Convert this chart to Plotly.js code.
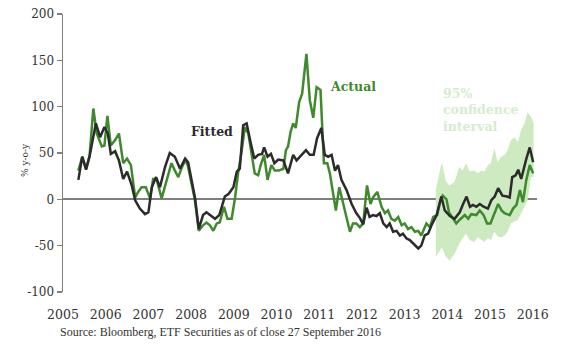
<!DOCTYPE html>
<html>
<head>
<meta charset="utf-8">
<script src="https://cdn.plot.ly/plotly-3.0.1.min.js"></script>
<style>html,body{margin:0;padding:0;background:#fff;}#chart{width:574px;height:354px;}</style>
</head>
<body>
<div id="chart"></div>
<script>
// ---- Data (decimal years, % y-o-y) ----
const fittedX = [2005.36,2005.45,2005.54,2005.63,2005.77,2005.87,2005.97,2006.05,2006.12,2006.22,2006.31,2006.41,2006.50,2006.61,2006.69,2006.80,2006.92,2007.00,2007.08,2007.18,2007.27,2007.39,2007.50,2007.62,2007.74,2007.86,2007.93,2008.01,2008.09,2008.18,2008.28,2008.36,2008.46,2008.56,2008.66,2008.71,2008.79,2008.88,2008.99,2009.07,2009.14,2009.22,2009.30,2009.40,2009.48,2009.57,2009.66,2009.71,2009.79,2009.87,2009.95,2010.04,2010.16,2010.27,2010.39,2010.47,2010.59,2010.69,2010.78,2010.87,2010.95,2011.05,2011.13,2011.21,2011.29,2011.37,2011.44,2011.52,2011.64,2011.76,2011.87,2011.95,2012.03,2012.11,2012.18,2012.26,2012.34,2012.42,2012.50,2012.58,2012.65,2012.73,2012.81,2012.89,2012.96,2013.04,2013.12,2013.20,2013.32,2013.39,2013.47,2013.55,2013.63,2013.75,2013.86,2013.94,2014.06,2014.17,2014.29,2014.37,2014.45,2014.53,2014.60,2014.68,2014.76,2014.85,2014.95,2015.03,2015.11,2015.19,2015.29,2015.40,2015.46,2015.52,2015.60,2015.66,2015.73,2015.84,2015.93,2016.01];
const fittedY = [21,46,32,48,82,67,78,71,49,52,42,22,30,15,-1,-10,-16,-14,13,24,13,35,50,46,33,44,40,22,2,-32,-17,-14,-18,-21,-17,-10,3,6,13,30,33,80,82,60,44,48,49,56,46,49,39,43,42,28,48,42,48,53,48,48,66,77,48,46,48,31,37,21,10,-5,-15,-20,-27,-9,-19,-17,-18,-15,-26,-30,-26,-35,-34,-39,-37,-42,-44,-48,-53,-50,-39,-37,-28,-17,3,-12,-18,-21,-14,-5,3,-8,-6,-8,-5,-8,-10,-1,3,12,4,3,2,24,26,32,22,42,56,40];

const actualX = [2005.36,2005.45,2005.54,2005.62,2005.71,2005.79,2005.91,2005.97,2006.04,2006.12,2006.22,2006.31,2006.41,2006.50,2006.59,2006.69,2006.76,2006.84,2006.94,2007.04,2007.11,2007.19,2007.31,2007.43,2007.54,2007.62,2007.70,2007.78,2007.86,2007.92,2008.00,2008.09,2008.18,2008.28,2008.36,2008.44,2008.52,2008.60,2008.67,2008.77,2008.85,2008.95,2009.03,2009.10,2009.18,2009.26,2009.34,2009.42,2009.49,2009.57,2009.63,2009.71,2009.79,2009.88,2009.96,2010.05,2010.16,2010.22,2010.27,2010.33,2010.39,2010.45,2010.53,2010.60,2010.70,2010.78,2010.86,2010.94,2011.03,2011.11,2011.19,2011.25,2011.33,2011.39,2011.47,2011.56,2011.64,2011.72,2011.79,2011.87,2011.95,2012.03,2012.12,2012.20,2012.26,2012.36,2012.46,2012.54,2012.61,2012.69,2012.77,2012.85,2012.93,2013.00,2013.08,2013.16,2013.24,2013.32,2013.39,2013.51,2013.59,2013.67,2013.76,2013.84,2013.89,2013.98,2014.04,2014.13,2014.21,2014.29,2014.41,2014.49,2014.56,2014.68,2014.76,2014.85,2014.93,2015.01,2015.11,2015.19,2015.27,2015.34,2015.46,2015.54,2015.62,2015.70,2015.77,2015.85,2015.93,2016.01];
const actualY = [31,46,33,46,98,71,57,58,90,58,64,71,39,44,37,2,8,13,13,1,22,22,1,21,39,31,24,34,42,37,17,-1,-34,-28,-25,-28,-34,-26,-25,-8,-21,-21,2,28,51,78,71,46,28,26,37,48,21,37,31,31,33,53,57,73,82,77,105,114,157,107,88,121,118,39,39,28,2,-12,13,-5,-19,-35,-26,-26,-30,-26,15,-5,2,8,-8,-15,-12,-21,-23,-19,-28,-26,-32,-30,-35,-34,-39,-26,-30,-19,-17,-1,4,0,-14,-21,-26,-22,-17,-21,-16,-17,-12,-17,-26,-26,-15,-5,-12,-15,-17,-10,-6,10,-3,21,37,28];

const bandX = [2013.73,2013.78,2013.87,2013.97,2014.05,2014.17,2014.28,2014.36,2014.44,2014.52,2014.63,2014.71,2014.79,2014.87,2014.95,2015.02,2015.10,2015.18,2015.26,2015.34,2015.41,2015.49,2015.57,2015.65,2015.73,2015.81,2015.88,2015.96,2016.02];
const bandUpper = [10,20,40,19,15,19,35,31,39,30,31,28,31,30,37,39,55,40,46,48,53,64,67,62,75,82,94,89,82];
const bandLower = [-62,-58,-52,-62,-66,-59,-48,-42,-37,-44,-46,-41,-44,-46,-42,-44,-35,-40,-41,-39,-35,-26,-24,-22,-15,-8,-1,24,24];

const yearTicks = [2005,2006,2007,2008,2009,2010,2011,2012,2013,2014,2015,2016];
const yTicks = [-100,-50,0,50,100,150,200];
const yTickText = ['-100','-50','0','50','100','150','200'];

const GREEN = '#3e8a2c', DARK = '#2b2b2b', BAND = '#cdeac1', BANDTXT = '#d5edcb', AXIS = '#7f7f7f';
const SERIF = '"DejaVu Serif", Georgia, serif';

const traces = [
  {x: bandX, y: bandLower, type: 'scatter', mode: 'lines', line: {width: 0, color: BAND}, hoverinfo: 'skip', showlegend: false},
  {x: bandX, y: bandUpper, type: 'scatter', mode: 'lines', fill: 'tonexty', fillcolor: BAND, line: {width: 0, color: BAND}, showlegend: false},
  {x: actualX, y: actualY, type: 'scatter', mode: 'lines', name: 'Actual', line: {color: GREEN, width: 2.5}, showlegend: false},
  {x: fittedX, y: fittedY, type: 'scatter', mode: 'lines', name: 'Fitted', line: {color: DARK, width: 2.5}, showlegend: false}
];

const layout = {
  width: 574, height: 354,
  margin: {l: 63, r: 37, t: 14, b: 62},
  paper_bgcolor: '#fff', plot_bgcolor: '#fff',
  showlegend: false,
  font: {family: SERIF, color: '#333', size: 12},
  xaxis: {
    range: [2005, 2016.1], tickvals: yearTicks, ticktext: yearTicks.map(String),
    showgrid: false, zeroline: false, showline: false,
    ticks: 'outside', ticklen: 11, tickcolor: 'rgba(0,0,0,0)',
    tickfont: {family: SERIF, size: 12.5, color: '#333'}
  },
  xaxis2: {
    overlaying: 'x', anchor: 'free', position: 1/3, side: 'bottom',
    range: [2005, 2016.1], tickvals: yearTicks, showticklabels: false,
    showgrid: false, zeroline: false, showline: false,
    ticks: 'outside', ticklen: 4, tickwidth: 1.5, tickcolor: AXIS
  },
  yaxis: {
    range: [-100, 200], tickvals: yTicks, ticktext: yTickText,
    showgrid: false, zeroline: true, zerolinecolor: AXIS, zerolinewidth: 2,
    showline: true, linecolor: AXIS, linewidth: 1.5,
    ticks: 'outside', ticklen: 5, tickwidth: 1.5, tickcolor: AXIS,
    tickfont: {family: SERIF, size: 12, color: '#333'}
  },
  annotations: [
    {text: 'Actual', x: 2011.21, y: 122, xref: 'x', yref: 'y', xanchor: 'left', yanchor: 'middle', showarrow: false,
     font: {family: SERIF, size: 12.5, color: GREEN, weight: 'bold'}},
    {text: 'Fitted', x: 2007.95, y: 73.5, xref: 'x', yref: 'y', xanchor: 'left', yanchor: 'middle', showarrow: false,
     font: {family: SERIF, size: 12.5, color: DARK, weight: 'bold'}},
    {text: '95%<br>confidence<br>interval', x: 2013.85, y: 96, xref: 'x', yref: 'y', xanchor: 'left', yanchor: 'middle', align: 'left', showarrow: false,
     font: {family: SERIF, size: 12.5, color: BANDTXT, weight: 'bold'}},
    {text: '% y-o-y', x: -0.08, y: 0.475, xref: 'paper', yref: 'paper', xanchor: 'center', yanchor: 'middle', textangle: -90, showarrow: false,
     font: {family: SERIF, size: 9, color: '#333'}},
    {text: 'Source: Bloomberg, ETF Securities as of close 27 September 2016', x: -0.0105, y: -0.143, xref: 'paper', yref: 'paper',
     xanchor: 'left', yanchor: 'middle', showarrow: false, font: {family: '"Liberation Serif", serif', size: 12, color: '#333'}}
  ]
};

Plotly.newPlot('chart', traces, layout, {staticPlot: true, displayModeBar: false});
</script>
</body>
</html>
